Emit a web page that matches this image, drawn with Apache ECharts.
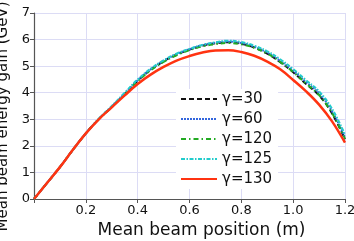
<!DOCTYPE html>
<html>
<head>
<meta charset="utf-8">
<script src="https://cdn.jsdelivr.net/npm/echarts@6/dist/echarts.min.js"></script>
<style>html,body{margin:0;padding:0;background:#fff}#c{width:354px;height:241px}</style>
</head>
<body>
<div id="c"></div>
<script>
const positions = [0, 0.05, 0.1, 0.15, 0.2, 0.25, 0.3, 0.35, 0.4, 0.45, 0.5, 0.55, 0.6, 0.65, 0.7, 0.75, 0.8, 0.85, 0.9, 0.95, 1.0, 1.05, 1.1, 1.15, 1.2];
const gamma30  = [0, 0.6, 1.2, 1.85, 2.47, 3.01, 3.47, 3.95, 4.45, 4.86, 5.18, 5.43, 5.62, 5.77, 5.86, 5.9, 5.84, 5.7, 5.47, 5.15, 4.77, 4.33, 3.9, 3.22, 2.25];
const gamma60  = [0, 0.6, 1.2, 1.85, 2.47, 3.01, 3.48, 3.97, 4.47, 4.88, 5.2, 5.45, 5.64, 5.79, 5.88, 5.92, 5.87, 5.73, 5.51, 5.2, 4.83, 4.4, 3.98, 3.3, 2.32];
const gamma120 = [0, 0.6, 1.2, 1.85, 2.47, 3.0, 3.46, 3.94, 4.43, 4.84, 5.16, 5.41, 5.6, 5.74, 5.83, 5.87, 5.82, 5.69, 5.47, 5.16, 4.78, 4.34, 3.91, 3.23, 2.27];
const gamma125 = [0, 0.6, 1.2, 1.85, 2.47, 3.02, 3.5, 4.0, 4.5, 4.9, 5.22, 5.47, 5.65, 5.8, 5.9, 5.96, 5.91, 5.77, 5.56, 5.26, 4.89, 4.47, 4.05, 3.4, 2.42];
const gamma130 = [0, 0.6, 1.2, 1.85, 2.47, 3.0, 3.45, 3.9, 4.33, 4.68, 4.97, 5.21, 5.38, 5.51, 5.59, 5.6, 5.53, 5.39, 5.17, 4.88, 4.48, 4.05, 3.55, 2.92, 2.12];
const seriesNames = ['γ=30', 'γ=60', 'γ=120', 'γ=125', 'γ=130'];
const xTicks = [0, 0.2, 0.4, 0.6, 0.8, 1.0, 1.2];
const yTicks = [0, 1, 2, 3, 4, 5, 6, 7];

const allValues = [gamma30, gamma60, gamma120, gamma125, gamma130];
const colors = ['#111111', '#3366dd', '#22aa22', '#22cccc', '#ff3311'];
const dashes = [[5, 3], [2, 1], [5, 3, 1.5, 3], [4, 1.5, 1.5, 1.5], 'solid'];
const widths = [2, 2, 2, 2, 2.5];
const F = 'DejaVu Sans';

const chart = echarts.init(document.getElementById('c'), null, {renderer: 'canvas'});
chart.setOption({
  animation: false,
  backgroundColor: '#fff',
  grid: {left: 34, right: 9, top: 13, bottom: 42, containLabel: false, outerBoundsMode: 'none'},
  legend: {
    orient: 'vertical',
    left: 176, top: 89,
    padding: [2, 6, 2, 4],
    backgroundColor: '#fff',
    itemWidth: 36, itemHeight: 14, itemGap: 4,
    itemStyle: {opacity: 0},
    textStyle: {fontFamily: F, fontSize: 15, color: '#111', lineHeight: 16},
    data: seriesNames
  },
  xAxis: {
    type: 'value', min: xTicks[0], max: xTicks[xTicks.length - 1], interval: 0.2,
    name: 'Mean beam position (m)', nameLocation: 'middle', nameGap: 22,
    nameTextStyle: {fontFamily: F, fontSize: 17, color: '#111', padding: [0, 0, 0, 24]},
    axisLine: {show: true, onZero: false, lineStyle: {color: '#555', width: 1.2}},
    axisTick: {show: true, length: 4, lineStyle: {color: '#555'}},
    axisLabel: {fontFamily: F, fontSize: 13, color: '#111', margin: 5,
      formatter: v => (Math.abs(v) < 1e-9 ? '' : v.toFixed(1))},
    splitLine: {show: true, lineStyle: {color: '#dcdcf5', width: 1}}
  },
  yAxis: {
    type: 'value', min: yTicks[0], max: yTicks[yTicks.length - 1], interval: 1,
    name: 'Mean beam energy gain (GeV)', nameLocation: 'middle', nameGap: 18,
    nameTextStyle: {fontFamily: F, fontSize: 15, color: '#111', padding: [0, 21, 0, 0]},
    axisLine: {show: true, lineStyle: {color: '#555', width: 1.2}},
    axisTick: {show: true, length: 4, lineStyle: {color: '#555'}},
    axisLabel: {fontFamily: F, fontSize: 13, color: '#111', margin: 4},
    splitLine: {show: true, lineStyle: {color: '#dcdcf5', width: 1}}
  },
  series: allValues.map((vals, i) => ({
    name: seriesNames[i],
    type: 'line',
    smooth: 0.4,
    symbol: 'none',
    z: 2 + i,
    data: positions.map((x, j) => [x, vals[j]]),
    lineStyle: {color: colors[i], width: widths[i], type: dashes[i]},
    itemStyle: {color: colors[i]}
  }))
});
</script>
</body>
</html>
